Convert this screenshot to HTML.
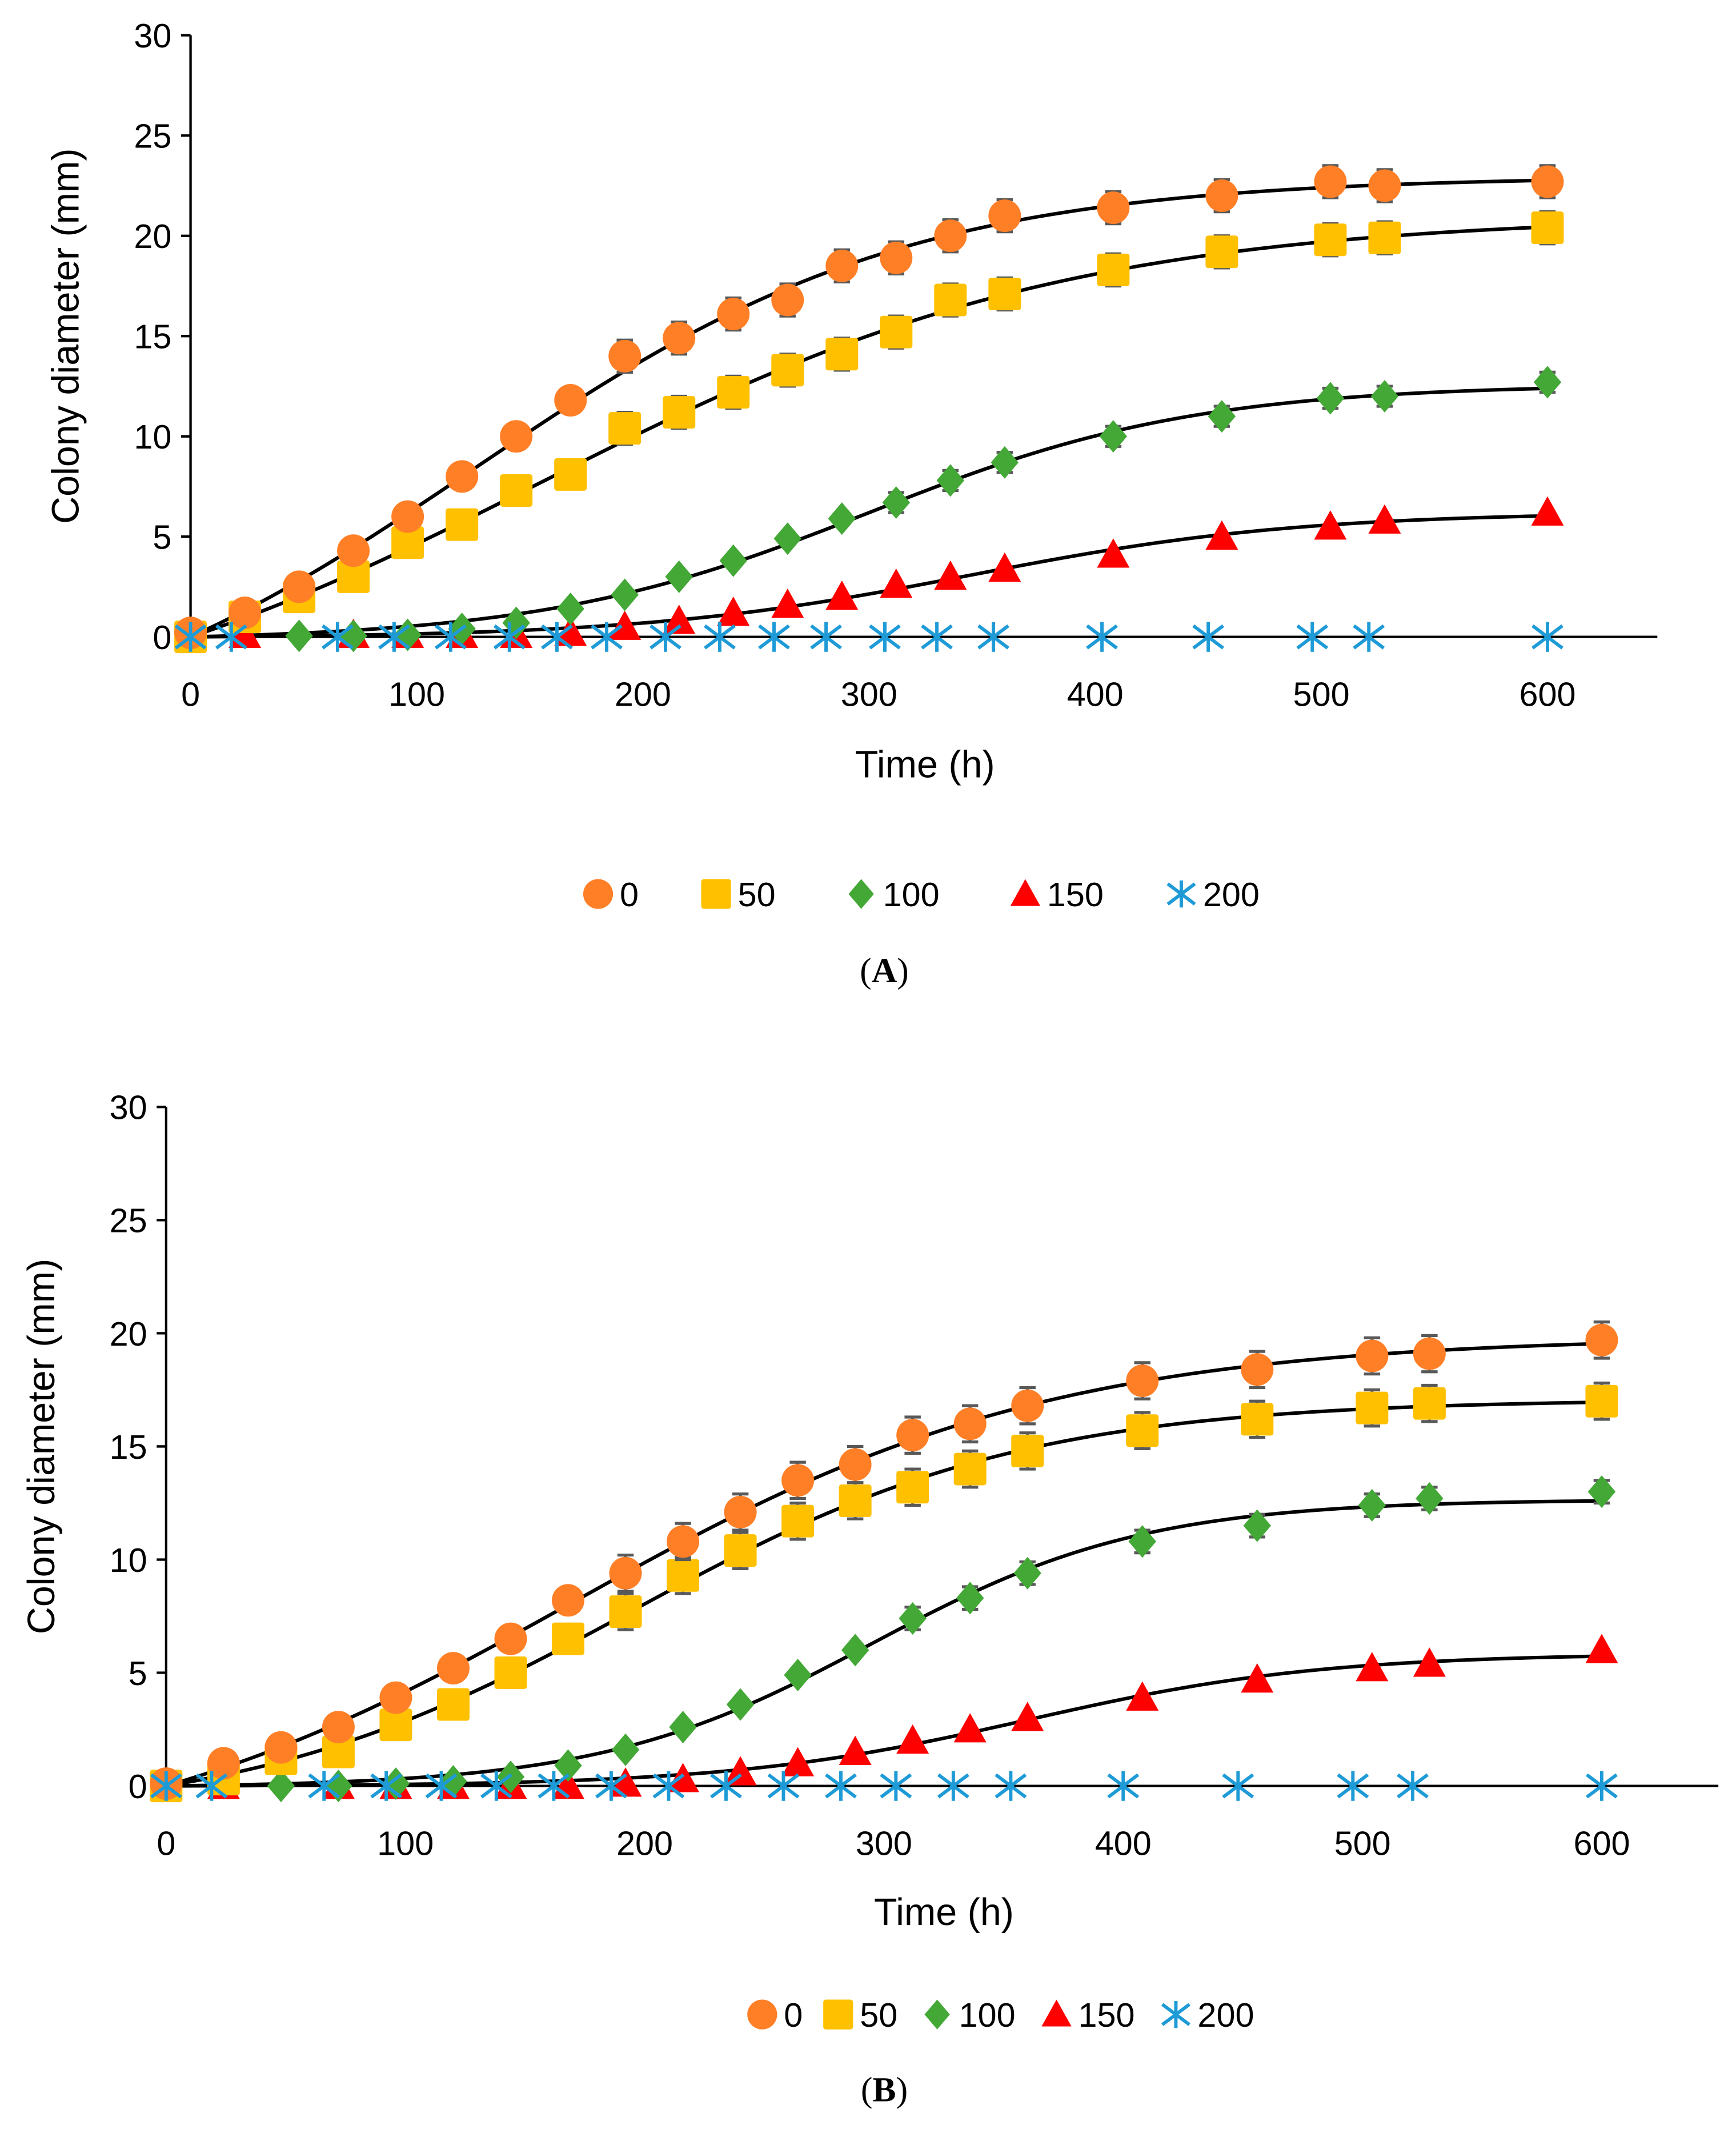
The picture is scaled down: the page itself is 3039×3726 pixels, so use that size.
<!DOCTYPE html>
<html><head><meta charset="utf-8"><style>
html,body{margin:0;padding:0;background:#fff}
svg{display:block}
text{font-family:"Liberation Sans",sans-serif;fill:#000}
</style></head><body>
<svg id="fig" xmlns="http://www.w3.org/2000/svg" width="3039" height="3726" viewBox="0 0 1280 1569.4" preserveAspectRatio="none"></svg>
<script>
// ---- Panel A data ----
const timesA = [0,24,48,72,96,120,144,168,192,216,240,264,288,312,336,360,408,456,504,528,600];
const a0 = [0.2,1.2,2.5,4.3,6,8,10,11.8,14,14.9,16.1,16.8,18.5,18.9,20,21,21.4,22,22.7,22.5,22.7];
const a50 = [0,1,2,3,4.7,5.6,7.3,8.1,10.4,11.2,12.2,13.3,14.1,15.2,16.8,17.1,18.3,19.2,19.8,19.9,20.4];
const times100A = [0,48,72,96,120,144,168,192,216,240,264,288,312,336,360,408,456,504,528,600];
const a100 = [0,0.05,0.05,0.1,0.4,0.7,1.4,2.1,3,3.8,4.9,5.9,6.7,7.8,8.7,10,11,11.9,12,12.7];
const times150A = [0,24,72,96,120,144,168,192,216,240,264,288,312,336,360,408,456,504,528,600];
const a150 = [0.1,0.1,0.1,0.1,0.1,0.1,0.2,0.5,0.8,1.2,1.6,2,2.6,3,3.4,4.1,5,5.5,5.8,6.2];
const times200A = [0,18,65,90,115,141,162,184,210,234,258,281,307,330,355,403,450,496,521,600];
const a200 = [0,0,0,0,0,0,0,0,0,0,0,0,0,0,0,0,0,0,0,0];
// ---- Panel B data ----
const timesB = [0,24,48,72,96,120,144,168,192,216,240,264,288,312,336,360,408,456,504,528,600];
const b0 = [0.1,1,1.7,2.6,3.9,5.2,6.5,8.2,9.4,10.8,12.1,13.5,14.2,15.5,16,16.8,17.9,18.4,19,19.1,19.7];
const b50 = [0,0.3,1.2,1.5,2.7,3.6,5,6.5,7.7,9.3,10.4,11.7,12.6,13.2,14,14.8,15.7,16.2,16.7,16.9,17];
const times100B = [0,48,72,96,120,144,168,192,216,240,264,288,312,336,360,408,456,504,528,600];
const b100 = [0,0,0,0.1,0.2,0.4,0.9,1.6,2.6,3.6,4.9,6,7.4,8.3,9.4,10.8,11.5,12.4,12.7,13];
const times150B = [0,24,72,96,120,144,168,192,216,240,264,288,312,336,360,408,456,504,528,600];
const b150 = [0,0,0,0,0,0,0,0.1,0.3,0.6,1,1.5,2,2.5,3,3.9,4.7,5.2,5.4,6];
const times200B = [0,19,66,92,115,138,162,186,210,234,258,282,305,329,353,400,448,496,521,600];
const b200 = [0,0,0,0,0,0,0,0,0,0,0,0,0,0,0,0,0,0,0,0];
const xTicks = [0,100,200,300,400,500,600];
const yTicks = [0,5,10,15,20,25,30];
const legendLabels = ["0","50","100","150","200"];
const errMain = 0.8, errGreen = 0.5;

const NS="http://www.w3.org/2000/svg";
const svg=document.getElementById('fig');
function mk(tag,attrs,parent){const e=document.createElementNS(NS,tag);for(const k in attrs)e.setAttribute(k,attrs[k]);(parent||svg).appendChild(e);return e;}
const COL={c0:"#FF7F27",c50:"#FFC000",c100:"#43A836",c150:"#FF0000",c200:"#1E9BD7"};

function marker(g,type,x,y,r){
  let e;
  if(type==="circle"){e=mk('ellipse',{cx:x,cy:y,rx:r,ry:r,fill:COL.c0},g);}
  else if(type==="square"){e=mk('rect',{x:x-r,y:y-r,width:2*r,height:2*r,rx:2,fill:COL.c50},g);}
  else if(type==="diamond"){e=mk('polygon',{points:`${x},${y-r} ${x+r*0.85},${y} ${x},${y+r} ${x-r*0.85},${y}`,fill:COL.c100},g);}
  else if(type==="triangle"){e=mk('polygon',{points:`${x},${y-r} ${x+r},${y+r*0.8} ${x-r},${y+r*0.8}`,fill:COL.c150},g);}
  else {e=mk('path',{d:`M${x-r},${y-r*0.75}L${x+r},${y+r*0.75}M${x-r},${y+r*0.75}L${x+r},${y-r*0.75}M${x},${y-r}L${x},${y+r}`,stroke:COL.c200,'stroke-width':2.5,fill:'none'},g);}
  return e;
}

// least-squares logistic fit anchored at 0: y = A*(s(t)-s0)/(1-s0)
function fitLogistic(ts,vs){
  let best=null;
  for(let m=0;m<=700;m+=5){
    for(let li=0;li<=80;li++){
      const k=0.002*Math.pow(25,li/80);
      const s0=1/(1+Math.exp(k*m));
      const f=ts.map(t=>(1/(1+Math.exp(-k*(t-m)))-s0)/(1-s0));
      let num=0,den=0;f.forEach((fi,i)=>{num+=fi*vs[i];den+=fi*fi;});
      const A=den>0?num/den:0;
      let err=0;f.forEach((fi,i)=>{const d=A*fi-vs[i];err+=d*d;});
      if(!best||err<best.err)best={err,A,k,m,s0};
    }
  }
  return t=>best.A*(1/(1+Math.exp(-best.k*(t-best.m)))-best.s0)/(1-best.s0);
}

function drawPanel(cfg){
  const g=mk('g',{});
  
  
  const X=t=>cfg.x0+(cfg.x600-cfg.x0)*t/600;
  const Y=v=>cfg.y0+(cfg.y30-cfg.y0)*v/30;
  const ya=mk('line',{x1:cfg.x0,y1:Y(0),x2:cfg.x0,y2:Y(30),stroke:'#000','stroke-width':1.8},g);
  
  
  yTicks.forEach(v=>{
    mk('line',{x1:cfg.x0-7,y1:Y(v),x2:cfg.x0,y2:Y(v),stroke:'#000','stroke-width':1.8},g);
    const t=mk('text',{x:cfg.x0-14,y:Y(v)+9,'text-anchor':'end','font-size':25},g);
    t.textContent=v;
    
    
  });
  xTicks.forEach(v=>{
    const t=mk('text',{x:X(v),y:Y(0)+51,'text-anchor':'middle','font-size':25},g);
    t.textContent=v;
    
    
  });
  const yt=mk('text',{x:0,y:0,'text-anchor':'middle','font-size':28,transform:`translate(${cfg.ytx},${(Y(0)+Y(30))/2}) rotate(-90)`},g);
  yt.textContent='Colony diameter (mm)';
  
  
  const xt=mk('text',{x:cfg.xtx,y:cfg.xty,'text-anchor':'middle','font-size':28},g);
  xt.textContent='Time (h)';
  
  
  cfg.series.forEach(s=>{
    if(s.type==="star")return;
    const f=fitLogistic(s.t,s.v);
    let d='';
    for(let t=0;t<=600;t+=4){d+=(t===0?'M':'L')+X(t).toFixed(2)+','+Y(f(t)).toFixed(2);}
    const c=mk('path',{d:d,stroke:'#000','stroke-width':2.6,fill:'none'},g);
    
    
  });
  const xa=mk('line',{x1:cfg.x0,y1:Y(0),x2:cfg.xEnd,y2:Y(0),stroke:'#000','stroke-width':1.8},g);
  
  
  cfg.series.forEach(s=>{
    const sg=mk('g',{},g);
    
    
    s.t.forEach((t,i)=>{
      const x=X(t),y=Y(s.v[i]);
      const e=s.err? s.err(t):0;
      if(e>0){
        mk('path',{d:`M${x},${Y(s.v[i]+e)}V${Y(s.v[i]-e)}M${x-6},${Y(s.v[i]+e)}H${x+6}M${x-6},${Y(s.v[i]-e)}H${x+6}`,stroke:'#595959','stroke-width':2.2,fill:'none'},sg);
      }
      const m=marker(sg,s.type,x,y,s.type==="star"?11:12);
      
      
    });
  });
  const types=["circle","square","diamond","triangle","star"];
  cfg.legend.forEach((lx,i)=>{
    const lg=mk('g',{},g);
    
    
    marker(lg,types[i],lx,cfg.ly,types[i]==="star"?10:11);
    const t=mk('text',{x:lx+16,y:cfg.ly+9,'font-size':25},lg);
    t.textContent=legendLabels[i];
  });
  const pl=mk('text',{x:cfg.plx,y:cfg.ply,'text-anchor':'middle','font-size':26,style:'font-family:"Liberation Serif",serif'},g);
  pl.innerHTML='(<tspan font-weight="bold">'+cfg.letter+'</tspan>)';
  
  
}

const errFn=t=>t>=192?errMain:0;
const errG=t=>t>=312?errGreen:0;
drawPanel({name:'chart-a',letter:'A',x0:140.5,x600:1141,y0:469.5,y30:26,xEnd:1222,ytx:58,xtx:682,xty:573,
  legend:[441,528,635,756,871],ly:659,plx:652,ply:724,
  series:[
    {label:'150',type:'triangle',t:times150A,v:a150},
    {label:'100',type:'diamond',t:times100A,v:a100,err:errG},
    {label:'50',type:'square',t:timesA,v:a50,err:errFn},
    {label:'0',type:'circle',t:timesA,v:a0,err:errFn},
    {label:'200',type:'star',t:times200A,v:a200}
  ]});
drawPanel({name:'chart-b',letter:'B',x0:122.5,x600:1181,y0:1316.5,y30:816,xEnd:1267,ytx:40,xtx:696,xty:1419,
  legend:[562,618,691,779,867],ly:1485,plx:652,ply:1549,
  series:[
    {label:'150',type:'triangle',t:times150B,v:b150},
    {label:'100',type:'diamond',t:times100B,v:b100,err:errG},
    {label:'50',type:'square',t:timesB,v:b50,err:errFn},
    {label:'0',type:'circle',t:timesB,v:b0,err:errFn},
    {label:'200',type:'star',t:times200B,v:b200}
  ]});
</script>
</body></html>
